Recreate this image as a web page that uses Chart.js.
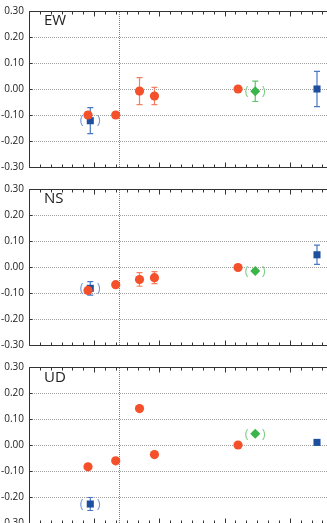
<!DOCTYPE html>
<html>
<head>
<meta charset="utf-8">
<script src="https://cdn.jsdelivr.net/npm/chart.js@4"></script>
<style>
  html, body { margin: 0; padding: 0; background: #fff; overflow: hidden; width: 327px; height: 523px; }
  .panel { position: absolute; left: 0; width: 360px; height: 178px; }
  .lbl { position: absolute; left: 44px; font: 15px/15px "Open Sans", sans-serif; color: #222; }
</style>
</head>
<body>
<div class="panel" id="p0" style="top:0px"><canvas id="c0" width="360" height="178"></canvas><div class="lbl" style="top:11.5px">EW</div></div>
<div class="panel" id="p1" style="top:178px"><canvas id="c1" width="360" height="178"></canvas><div class="lbl" style="top:12px">NS</div></div>
<div class="panel" id="p2" style="top:356px"><canvas id="c2" width="360" height="178"></canvas><div class="lbl" style="top:12.5px">UD</div></div>
<script>
// ---- data (x in axis units, major tick = 1) ----
const components = ["EW", "NS", "UD"];
const redX   = [0.905, 1.33, 1.695, 1.924, 3.206];
const blueX  = [0.94, 4.417];
const greenX = [3.47];
const eventX = 1.374;
const yTicks = [-0.3, -0.2, -0.1, 0.0, 0.1, 0.2, 0.3];
const gridTicks = [-0.2, -0.1, 0.0, 0.1, 0.2];

const redEW    = [-0.100, -0.100, -0.008, -0.027, 0.000];
const redEWErr = [0.012, 0.010, 0.052, 0.033, 0];
const blueEW    = [-0.122, 0.000];
const blueEWErr = [0.050, 0.068];
const greenEW    = [-0.009];
const greenEWErr = [0.039];

const redNS    = [-0.090, -0.068, -0.048, -0.041, -0.002];
const redNSErr = [0.010, 0.008, 0.026, 0.023, 0];
const blueNS    = [-0.082, 0.047];
const blueNSErr = [0.026, 0.037];
const greenNS    = [-0.015];
const greenNSErr = [0.006];

const redUD    = [-0.084, -0.061, 0.140, -0.037, 0.000];
const redUDErr = [0.008, 0.005, 0.005, 0.005, 0];
const blueUD    = [-0.227, 0.010];
const blueUDErr = [0.025, 0.005];
const greenUD    = [0.043];
const greenUDErr = [0.006];

const blueParen  = [true, false];
const greenParen = [true];

const panels = [
  {red: redEW, redErr: redEWErr, blue: blueEW, blueErr: blueEWErr, green: greenEW, greenErr: greenEWErr, padTop: 5, padBottom: 9.5},
  {red: redNS, redErr: redNSErr, blue: blueNS, blueErr: blueNSErr, green: greenNS, greenErr: greenNSErr, padTop: 6.5, padBottom: 8.5},
  {red: redUD, redErr: redUDErr, blue: blueUD, blueErr: blueUDErr, green: greenUD, greenErr: greenUDErr, padTop: 6.5, padBottom: 8}
];

const RED = '#f4502a', RED_ERR = '#f3805f';
const BLUE = '#1d4f9e', BLUE_ERR = '#4a78c4', BLUE_PAR = '#6f96d8';
const GREEN = '#3bb54a', GREEN_ERR = '#5cc46a', GREEN_PAR = '#7ccf87';
const AXIS = '#333';
const GRID = '#a0a0a0';

const pts = (xs, ys) => xs.map((x, i) => ({x: x, y: ys[i]}));

const decor = {
  id: 'decor',
  beforeDatasetsDraw(chart) {
    const {ctx, chartArea: a, scales: {x, y}} = chart;
    ctx.save();
    // dotted horizontal grid
    ctx.fillStyle = GRID;
    gridTicks.forEach(v => {
      const py = Math.round(y.getPixelForValue(v));
      for (let px = Math.round(a.left) + 1; px < a.right; px += 2) {
        ctx.fillRect(px, py, 1, 1);
      }
    });
    // event line (dotted)
    const ex = Math.round(x.getPixelForValue(eventX));
    ctx.fillStyle = '#7070e0';
    for (let py = Math.round(a.top) + 1; py < a.bottom; py += 2) {
      ctx.fillRect(ex, py, 1, 1);
    }
    // error bars
    const cfg = chart.options.plugins.decor;
    chart.data.datasets.forEach((ds, di) => {
      const errs = cfg.errs[di];
      ctx.strokeStyle = cfg.errColors[di]; ctx.lineWidth = 1.2;
      ds.data.forEach((p, i) => {
        const e = errs[i];
        if (!e) return;
        const px = x.getPixelForValue(p.x);
        const y1 = y.getPixelForValue(p.y + e), y2 = y.getPixelForValue(p.y - e);
        ctx.beginPath();
        ctx.moveTo(px, y1); ctx.lineTo(px, y2);
        ctx.moveTo(px - 3, y1); ctx.lineTo(px + 3, y1);
        ctx.moveTo(px - 3, y2); ctx.lineTo(px + 3, y2);
        ctx.stroke();
      });
    });
    ctx.restore();
  },
  afterDatasetsDraw(chart) {
    const {ctx, chartArea: a, scales: {x, y}} = chart;
    const cfg = chart.options.plugins.decor;
    ctx.save();
    // parentheses
    ctx.font = '13px "Open Sans", sans-serif';
    ctx.textAlign = 'center'; ctx.textBaseline = 'middle';
    chart.data.datasets.forEach((ds, di) => {
      const par = cfg.parens[di];
      if (!par) return;
      ctx.fillStyle = cfg.parenColors[di];
      ds.data.forEach((p, i) => {
        if (!par[i]) return;
        const px = x.getPixelForValue(p.x), py = y.getPixelForValue(p.y);
        ctx.fillText('(', px - 8.5, py);
        ctx.fillText(')', px + 8.5, py);
      });
    });
    // frame
    ctx.strokeStyle = AXIS; ctx.lineWidth = 1;
    const L = Math.round(a.left) + 0.5, T = Math.round(a.top) + 0.5, B = Math.round(a.bottom) + 0.5;
    ctx.beginPath();
    ctx.moveTo(a.right, T); ctx.lineTo(L, T); ctx.lineTo(L, B); ctx.lineTo(a.right, B);
    ctx.stroke();
    // inward x ticks
    ctx.beginPath();
    for (let k = 0; k <= 30; k++) {
      const v = k / 6;
      const px = Math.round(x.getPixelForValue(v)) + 0.5;
      const len = (k % 6 === 0) ? 5 : 3;
      ctx.moveTo(px, T); ctx.lineTo(px, T + len);
      ctx.moveTo(px, B); ctx.lineTo(px, B - len);
    }
    // inward y ticks
    yTicks.forEach(v => {
      const py = Math.round(y.getPixelForValue(v)) + 0.5;
      ctx.moveTo(L, py); ctx.lineTo(L + 3, py);
    });
    ctx.stroke();
    ctx.restore();
  }
};

panels.forEach((p, idx) => {
  new Chart(document.getElementById('c' + idx), {
    type: 'scatter',
    data: {
      datasets: [
        {label: 'blue', data: pts(blueX, p.blue), pointStyle: 'rect', pointRadius: 5, backgroundColor: BLUE, borderColor: BLUE, borderWidth: 0, order: 3},
        {label: 'green', data: pts(greenX, p.green), pointStyle: 'rectRot', pointRadius: 5, backgroundColor: GREEN, borderColor: GREEN, borderWidth: 0, order: 2},
        {label: 'red', data: pts(redX, p.red), pointStyle: 'circle', pointRadius: 4.6, backgroundColor: RED, borderColor: RED, borderWidth: 0, order: 1}
      ]
    },
    options: {
      responsive: false,
      animation: false,
      events: [],
      layout: {padding: {top: p.padTop, bottom: p.padBottom, left: 0, right: 3.5}},
      plugins: {
        legend: {display: false},
        tooltip: {enabled: false},
        decor: {
          errs: [p.blueErr, p.greenErr, p.redErr],
          errColors: [BLUE_ERR, GREEN_ERR, RED_ERR],
          parens: [blueParen, greenParen, null],
          parenColors: [BLUE_PAR, GREEN_PAR, null]
        }
      },
      scales: {
        x: {type: 'linear', min: 0, max: 5, display: false},
        y: {
          min: -0.3, max: 0.3,
          afterFit: s => { s.width = 29; },
          afterBuildTicks: s => { s.ticks = yTicks.map(v => ({value: v})); },
          border: {display: false},
          grid: {display: false, drawTicks: false},
          ticks: {
            padding: 5,
            color: '#222',
            font: {family: '"Open Sans", sans-serif', size: 10},
            callback: v => Math.abs(v) < 1e-9 ? '0.00' : v.toFixed(2)
          }
        }
      }
    },
    plugins: [decor]
  });
});
</script>
</body>
</html>
